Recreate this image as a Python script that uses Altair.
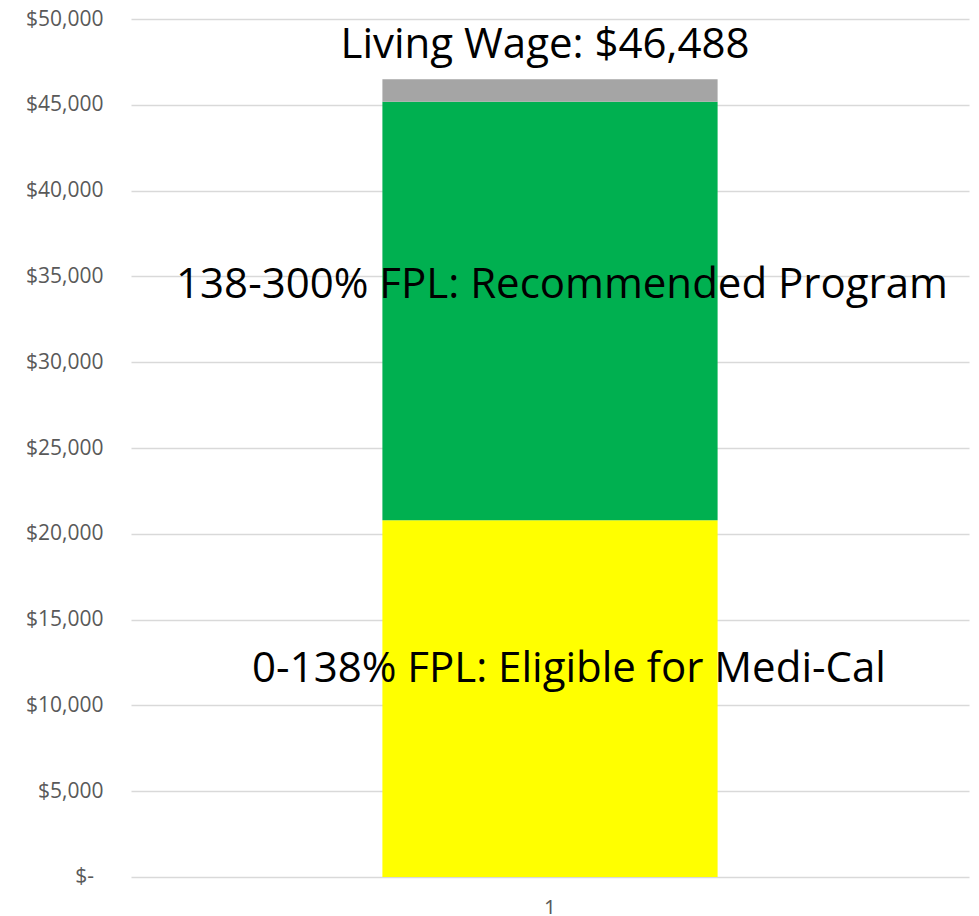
import altair as alt
import pandas as pd

# Data
categories = ["1", "1", "1"]
segments = ["0-138% FPL: Eligible for Medi-Cal", "138-300% FPL: Recommended Program", "Living Wage"]
values = [20783, 24397, 1308]
colors = ["#FFFF00", "#00B050", "#A5A5A5"]

label_texts = ["0-138% FPL: Eligible for Medi-Cal", "138-300% FPL: Recommended Program", "Living Wage: $46,488"]
label_y = [11350, 33738, 47727]
label_dx = [19, 12, -5]

y_ticks = [0, 5000, 10000, 15000, 20000, 25000, 30000, 35000, 40000, 45000, 50000]

df = pd.DataFrame({"cat": categories, "segment": segments, "value": values, "order": [0, 1, 2]})
lab = pd.DataFrame({"cat": ["1"] * 3, "text": label_texts, "y": label_y, "dx": label_dx})
zero_lab = pd.DataFrame({"v": [0], "t": ["$-"]})

FONT = "Open Sans"

x_enc = alt.X("cat:N", title=None,
              scale=alt.Scale(paddingInner=0, paddingOuter=0),
              axis=alt.Axis(labelAngle=0, ticks=False, domain=False, grid=False,
                            labelFont=FONT, labelFontSize=21, labelColor="#595959",
                            labelPadding=21))

bars = alt.Chart(df).mark_bar(width=alt.RelativeBandSize(0.4)).encode(
    x=x_enc,
    y=alt.Y("value:Q", stack="zero", title=None,
            scale=alt.Scale(domain=[0, 50000], nice=False),
            axis=alt.Axis(values=y_ticks, ticks=False, domain=False, grid=True,
                          gridColor="#D9D9D9", gridWidth=1.5,
                          labelFont=FONT, labelFontSize=21, labelColor="#595959",
                          labelPadding=28,
                          labelExpr="datum.value == 0 ? '' : '$' + format(datum.value, ',')")),
    color=alt.Color("segment:N", scale=alt.Scale(domain=segments, range=colors), legend=None),
    order=alt.Order("order:Q"),
)

zero_text = alt.Chart(zero_lab).mark_text(
    font=FONT, fontSize=21, color="#595959", align="right", baseline="middle"
).encode(
    x=alt.value(-37),
    y=alt.Y("v:Q"),
    text="t:N",
)

texts = []
for i in range(3):
    t = alt.Chart(lab.iloc[[i]]).mark_text(
        font=FONT, fontSize=42, color="#000000", baseline="alphabetic",
        align="center", dx=label_dx[i]
    ).encode(
        x=alt.X("cat:N"),
        y=alt.Y("y:Q"),
        text="text:N",
    )
    texts.append(t)

chart = alt.layer(bars, zero_text, *texts).properties(
    width=838, height=858,
    autosize=alt.AutoSizeParams(type="none"),
    padding={"left": 123, "top": 11, "right": 2, "bottom": 37},
).configure_view(stroke=None)

chart.save("out.html", embed_options={"renderer": "svg", "actions": False})
